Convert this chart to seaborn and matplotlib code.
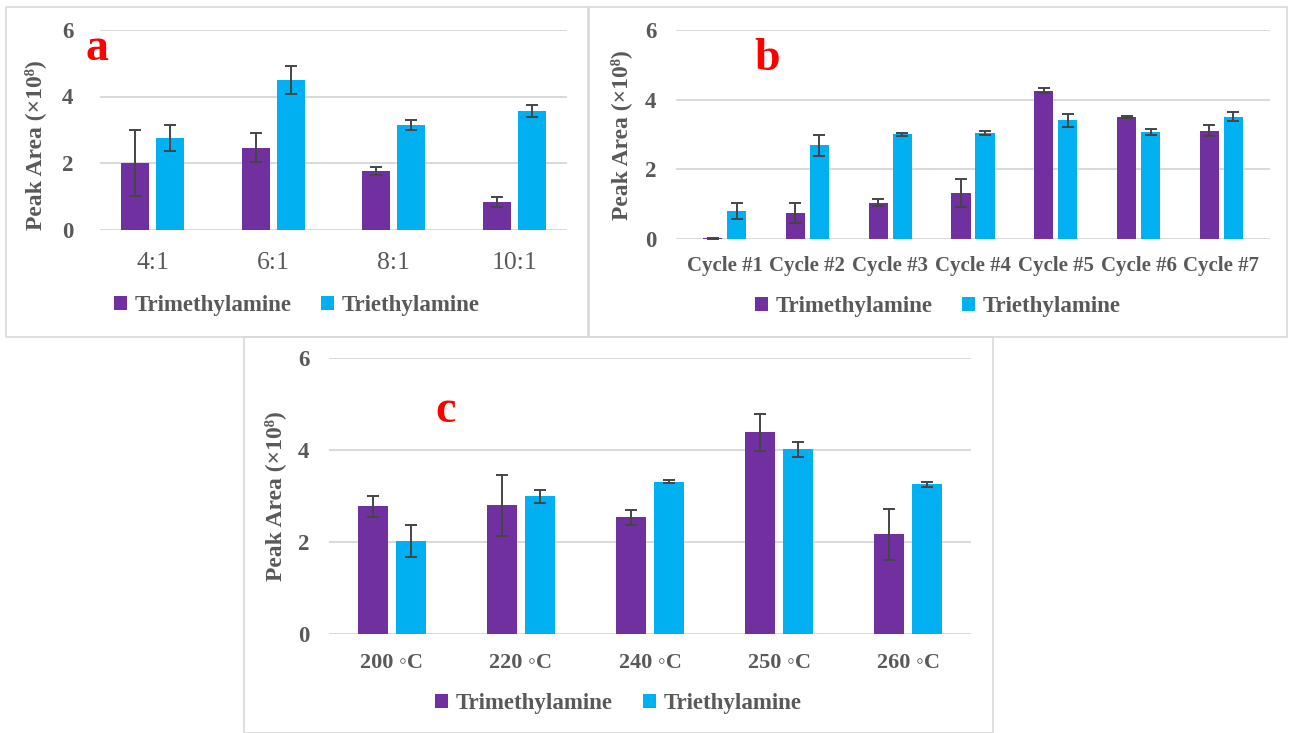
import matplotlib
matplotlib.use("Agg")
import matplotlib.pyplot as plt
import matplotlib.patches as mpatches
import pandas as pd
import seaborn as sns

# ---- data (peak area, x10^8) ----
series = ["Trimethylamine", "Triethylamine"]

ratio_labels = ["4:1", "6:1", "8:1", "10:1"]
ratio_tma = [2.00, 2.46, 1.76, 0.82]
ratio_tma_err = [1.00, 0.44, 0.12, 0.15]
ratio_tea = [2.75, 4.50, 3.13, 3.56]
ratio_tea_err = [0.40, 0.43, 0.15, 0.18]

cycle_labels = ["Cycle #1", "Cycle #2", "Cycle #3", "Cycle #4",
                "Cycle #5", "Cycle #6", "Cycle #7"]
cycle_tma = [0.02, 0.75, 1.04, 1.33, 4.26, 3.51, 3.11]
cycle_tma_err = [0.01, 0.28, 0.10, 0.40, 0.08, 0.03, 0.15]
cycle_tea = [0.79, 2.69, 3.01, 3.04, 3.41, 3.07, 3.51]
cycle_tea_err = [0.23, 0.30, 0.04, 0.06, 0.19, 0.09, 0.13]

temp_labels = ["200 \u25e6C", "220 \u25e6C", "240 \u25e6C", "250 \u25e6C", "260 \u25e6C"]
temp_tma = [2.78, 2.80, 2.54, 4.39, 2.17]
temp_tma_err = [0.23, 0.67, 0.17, 0.41, 0.55]
temp_tea = [2.03, 3.00, 3.32, 4.02, 3.26]
temp_tea_err = [0.35, 0.14, 0.03, 0.16, 0.05]

y_ticks = [0, 2, 4, 6]

# ---- style ----
sns.set_theme(style="white")
SERIF = ["Liberation Serif", "DejaVu Sans"]
plt.rcParams["font.family"] = SERIF
TEXT = "#595959"
GRID = "#D9D9D9"
palette = {"Trimethylamine": "#7030A0", "Triethylamine": "#00B0F0"}

W, H = 1292, 733
fig = plt.figure(figsize=(W / 100, H / 100), dpi=100)
fig.patch.set_facecolor("white")


def fx(px):
    return px / W


def fy(py):
    return 1 - py / H


def frame(x0, y0, x1, y1):
    fig.patches.append(mpatches.Rectangle(
        (fx(x0), fy(y1)), fx(x1) - fx(x0), fy(y0) - fy(y1),
        transform=fig.transFigure, facecolor="none",
        edgecolor=GRID, linewidth=1.2, zorder=0))


def make_frame(cats, tma, tma_err, tea, tea_err):
    return pd.DataFrame({
        "category": cats * 2,
        "series": [series[0]] * len(cats) + [series[1]] * len(cats),
        "value": list(tma) + list(tea),
        "err": list(tma_err) + list(tea_err),
    })


def panel(rect, df, letter, letter_xy, box, legend_y,
          xtick_size, xtick_weight, ytick_pad, xtick_pad, ylabel_xy):
    x0, y0, x1, y1 = rect
    ax = fig.add_axes([fx(x0), fy(y1), fx(x1) - fx(x0), fy(y0) - fy(y1)])
    sns.barplot(data=df, x="category", y="value", hue="series",
                hue_order=series, palette=palette, width=0.58, gap=0.2,
                errorbar=None, linewidth=0, saturation=1, ax=ax)
    # error bars at the centre of every bar
    for cont, name in zip(ax.containers, series):
        errs = df.loc[df["series"] == name, "err"].tolist()
        xs = [b.get_x() + b.get_width() / 2 for b in cont]
        ys = [b.get_height() for b in cont]
        ax.errorbar(xs, ys, yerr=errs, fmt="none", ecolor="#454545",
                    elinewidth=1.4, capsize=4.2, capthick=1.4, zorder=3)
    ax.set_ylim(0, 6)
    ax.set_yticks(y_ticks)
    ax.yaxis.grid(True, color=GRID, linewidth=1.4)
    ax.set_axisbelow(True)
    for s in ax.spines.values():
        s.set_visible(False)
    ax.tick_params(axis="both", length=0, colors=TEXT)
    ax.tick_params(axis="y", pad=ytick_pad, labelsize=16.5)
    ax.tick_params(axis="x", pad=xtick_pad, labelsize=xtick_size)
    for t in ax.get_yticklabels():
        t.set_fontweight("bold")
    for t in ax.get_xticklabels():
        t.set_fontweight(xtick_weight)
    ax.set_xlabel("")
    ax.set_ylabel("Peak Area (\u00d710\u2078)", fontsize=17,
                  fontweight="bold", color=TEXT)
    # label anchored by its right edge (rotated text), so shift by half its height
    lx, ly = ylabel_xy
    ax.yaxis.set_label_coords((lx + 9 - x0) / (x1 - x0), (y1 - ly) / (y1 - y0))
    bx0, by0, bx1, by1 = box
    frame(bx0, by0, bx1, by1)
    sns.move_legend(ax, "center",
                    bbox_to_anchor=(fx((bx0 + bx1) / 2), fy(legend_y)),
                    bbox_transform=fig.transFigure, ncol=2, frameon=False,
                    title=None, fontsize=16.5, handlelength=0.55,
                    handleheight=0.55, handletextpad=0.35,
                    columnspacing=1.3, borderpad=0)
    for t in ax.get_legend().get_texts():
        t.set_fontweight("bold")
        t.set_color(TEXT)
    fig.text(fx(letter_xy[0]), fy(letter_xy[1]), letter, color="#FF0000",
             fontsize=33, fontweight="bold", ha="center", va="baseline")
    return ax


panel((100, 30, 567, 229.5),
      make_frame(ratio_labels, ratio_tma, ratio_tma_err, ratio_tea, ratio_tea_err),
      "a", (97, 60), (6, 7, 588, 337), 306,
      18.5, "normal", 19, 16, (37, 145))

panel((676, 30, 1270, 239),
      make_frame(cycle_labels, cycle_tma, cycle_tma_err, cycle_tea, cycle_tea_err),
      "b", (767, 70), (589, 7, 1287, 337), 307,
      15, "bold", 14, 12, (623, 135))

panel((329, 358.5, 971, 634),
      make_frame(temp_labels, temp_tma, temp_tma_err, temp_tea, temp_tea_err),
      "c", (446, 422), (244, 337, 993, 733), 704,
      16, "bold", 14, 14, (277, 496))

fig.savefig("out.png", dpi=100, facecolor="white")
